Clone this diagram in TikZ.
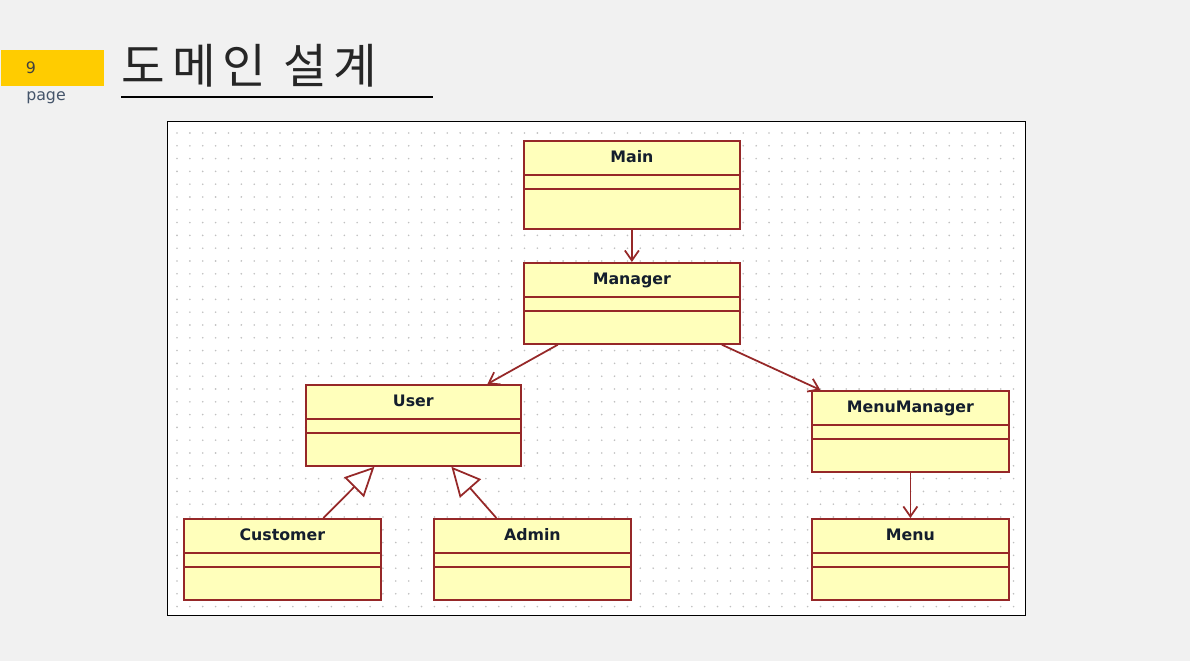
\documentclass[tikz,border=0pt]{standalone}
\usepackage{fontspec}
\setmainfont{DejaVu Sans}
\newfontfamily\krfont[LetterSpace=14]{Noto Sans CJK KR}
\usetikzlibrary{arrows.meta, calc}

\definecolor{pagebg}{RGB}{241,241,241}
\definecolor{tabyellow}{RGB}{255,204,0}
\definecolor{umlred}{RGB}{150,40,40}
\definecolor{umlfill}{RGB}{255,255,187}
\definecolor{umltext}{RGB}{20,30,45}
\definecolor{griddot}{RGB}{192,192,192}
\definecolor{pagegray}{RGB}{68,84,106}

\begin{document}
\begin{tikzpicture}[x=0.02cm, y=-0.02cm, line width=1pt,
  classbox/.style={draw=umlred, fill=umlfill, rectangle, anchor=north west, inner sep=0pt},
  classname/.style={font=\bfseries\fontsize{9}{10}\selectfont, text=umltext, inner sep=0pt, anchor=base},
  assoc/.style={draw=umlred, -{Straight Barb[length=0.2cm, width=0.28cm]}},
  inherit/.style={draw=umlred, -{Triangle[open, fill=white, length=0.58cm, width=0.56cm]}}]

  % Page background
  \fill[pagebg] (0,0) rectangle (1190,661);
  \useasboundingbox (0,0) rectangle (1190,661);

  % Header
  \node[fill=tabyellow, anchor=north west, minimum width=103*0.02cm, minimum height=36*0.02cm, inner sep=0pt] (tab) at (0,49) {};
  \node[anchor=base, text=black!75, font=\fontsize{9}{10}\selectfont, inner sep=0pt] (pagenum) at (31,74) {9};
  \node[anchor=base, text=pagegray, font=\fontsize{9}{10}\selectfont, inner sep=0pt] (pagelabel) at (46,101) {page};
  \node[anchor=base west, text=black!85, font=\krfont\fontsize{27}{30}\selectfont, inner sep=0pt] (title) at (121,84) {도메인 설계};
  \draw[line width=0.6pt] (121,97) -- (433,97);

  % Diagram canvas with dot grid
  \node[draw=black, fill=white, line width=0.6pt, anchor=north west, inner sep=0pt,
        minimum width=858*0.02cm, minimum height=494*0.02cm] (canvas) at (167,121) {};
  \foreach \i in {0,...,65}
    \foreach \j in {0,...,37}
      \fill[griddot] (177+\i*12.87, 133+\j*12.8) circle[radius=0.018cm];

  % Classes
  \foreach \id/\x/\y/\w/\h/\name in {main/523/140/216/88/Main, manager/523/262/216/81/Manager,
      user/305/384/215/81/User, menumgr/811/390/197/81/MenuManager,
      customer/183/518/197/81/Customer, admin/433/518/197/81/Admin, menu/811/518/197/81/Menu}
  {
    \node[classbox, minimum width=\w*0.02cm, minimum height=\h*0.02cm] (\id) at (\x,\y) {};
    \node[classname] (\id-name) at ($(\id.north)+(0,23)$) {\name};
    \draw[umlred] ($(\id.north west)+(0,35)$) -- ($(\id.north east)+(0,35)$);
    \draw[umlred] ($(\id.north west)+(0,49)$) -- ($(\id.north east)+(0,49)$);
  }

  % Associations
  \draw[assoc] (main.south) -- (manager.north);
  \draw[assoc] (manager) -- (user);
  \draw[assoc] (manager) -- (menumgr);
  \draw[assoc] (menumgr.south) -- (menu.north);

  % Generalizations
  \draw[inherit] ($(customer.north)+(41,0)$) -- ($(user.south)+(-39,0)$);
  \draw[inherit] ($(admin.north)+(-36,0)$) -- ($(user.south)+(38,0)$);

\end{tikzpicture}
\end{document}
